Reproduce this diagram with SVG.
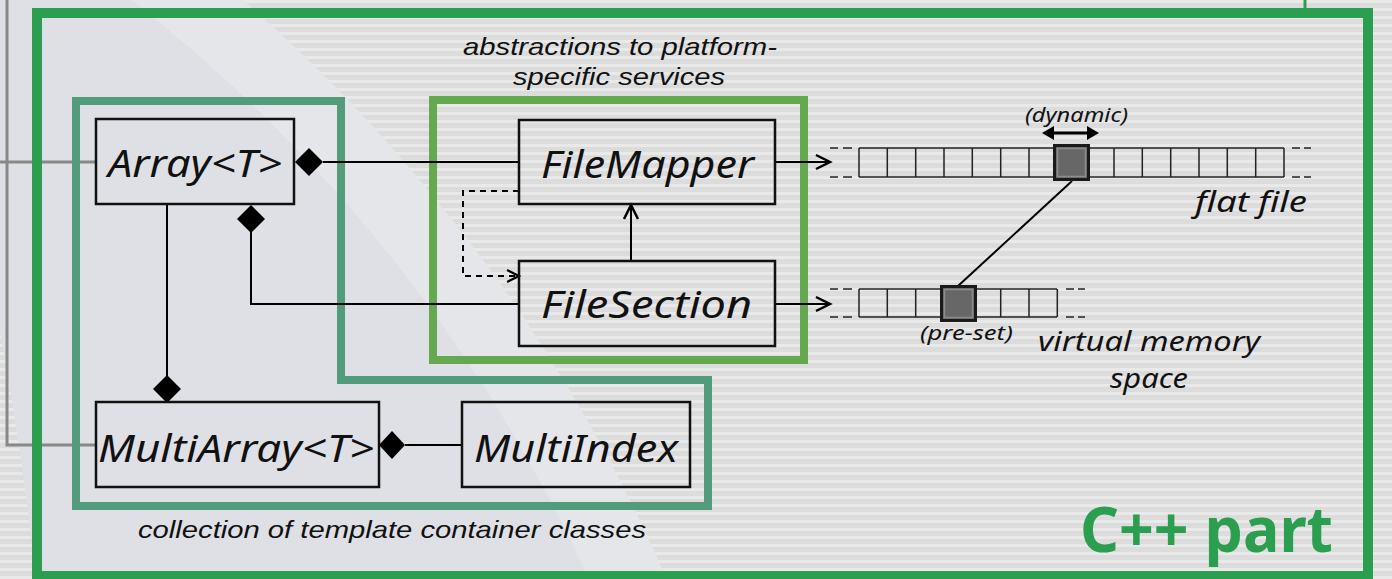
<svg xmlns="http://www.w3.org/2000/svg" xmlns:xlink="http://www.w3.org/1999/xlink" width="1392" height="579" viewBox="0 0 1392 579">
  <defs>
    <pattern id="stripes" width="8" height="8" patternUnits="userSpaceOnUse">
      <rect width="8" height="8" fill="#dcdcdc"/>
      <rect width="8" height="3" fill="#e9e9e9"/>
    </pattern>
    <path id="diamond" d="M-14,0 L0,-14 L14,0 L0,14 Z" fill="#000"/>
    <path id="open-head" d="M-14,-7 L0,0 L-14,7" fill="none" stroke="#000" stroke-width="2.5"/>
    <path id="solid-head" d="M-12,-7 L0,0 L-12,7 Z" fill="#000"/>
    <style>
      .box { fill: none; stroke: #111; stroke-width: 2.5; }
      .cls { font-family: "Noto Sans", "DejaVu Sans", sans-serif; font-style: italic; font-size: 39px; fill: #111; }
      .note { font-family: "Liberation Sans", Arial, sans-serif; font-style: italic; font-size: 24px; fill: #111; }
      .mem { font-family: "Noto Sans", "DejaVu Sans", sans-serif; font-style: italic; fill: #111; }
      .wire { fill: none; stroke: #000; stroke-width: 2; }
      .cell { fill: none; stroke: #222; stroke-width: 1.5; }
      .hot { fill: #676767; stroke: #1a1a1a; stroke-width: 3; }
      .hot-in { fill: none; stroke: #8c8c8c; stroke-width: 1.5; }
    </style>
  </defs>

  <!-- backdrop: striped field with a soft swoosh on the left -->
  <rect width="1392" height="579" fill="url(#stripes)"/>
  <circle cx="-821" cy="1223" r="1621" fill="#e5e6ea"/>
  <circle cx="-821" cy="1223" r="1550" fill="#dfe0e5"/>
  <path d="M0,330 Q22,450 36,579 L0,579 Z" fill="url(#stripes)"/>

  <!-- links coming in from outside the C++ part -->
  <g id="external-links" fill="none" stroke="#888" stroke-width="3">
    <polyline points="7,0 7,445 96,445"/>
    <line x1="0" y1="162" x2="96" y2="162"/>
    <line x1="1305" y1="0" x2="1305" y2="12" stroke="#2c9e50"/>
  </g>

  <!-- frames -->
  <g id="cpp-part">
    <rect x="37" y="13" width="1331" height="563" fill="none" stroke="#2b9e50" stroke-width="10"/>
    <text x="1080" y="552" font-family="Noto Sans, DejaVu Sans, sans-serif" font-weight="700" font-size="62" fill="#2c9e50" textLength="253" lengthAdjust="spacingAndGlyphs">C++ part</text>
  </g>
  <g id="container-classes">
    <polygon points="76,101 341,101 341,380 708,380 708,506 76,506" fill="none" stroke="#529b7d" stroke-width="8"/>
    <text class="note" x="138" y="538" font-size="25" textLength="508" lengthAdjust="spacingAndGlyphs">collection of template container classes</text>
  </g>
  <g id="platform-services">
    <rect x="433" y="100" width="371" height="260" fill="none" stroke="#64a94f" stroke-width="8"/>
    <text class="note" x="463" y="55" textLength="314" lengthAdjust="spacingAndGlyphs">abstractions to platform-</text>
    <text class="note" x="513" y="85" textLength="212" lengthAdjust="spacingAndGlyphs">specific services</text>
  </g>

  <!-- connectors -->
  <g id="connectors">
    <line class="wire" x1="323" y1="162" x2="519" y2="162"/>
    <use xlink:href="#diamond" transform="translate(309,162)"/>

    <polyline class="wire" points="251,232 251,304 519,304"/>
    <use xlink:href="#diamond" transform="translate(251,219)"/>

    <line class="wire" x1="167" y1="204" x2="167" y2="376"/>
    <use xlink:href="#diamond" transform="translate(167,389)"/>

    <line class="wire" x1="405" y1="445" x2="462" y2="445"/>
    <use xlink:href="#diamond" transform="translate(392,445) scale(0.93,1)"/>

    <polyline class="wire" points="519,191 463,191 463,276 517,276" stroke-dasharray="6,5" stroke-width="2.5"/>
    <use xlink:href="#open-head" transform="translate(519,276) scale(0.85)"/>

    <line class="wire" x1="631" y1="261" x2="631" y2="206"/>
    <use xlink:href="#open-head" transform="translate(631,205) rotate(-90)"/>

    <line class="wire" x1="775" y1="162" x2="829" y2="162"/>
    <use xlink:href="#open-head" transform="translate(830,162)"/>
    <line class="wire" x1="775" y1="304" x2="829" y2="304"/>
    <use xlink:href="#open-head" transform="translate(830,304)"/>

    <line class="wire" x1="1072" y1="181" x2="958" y2="286"/>
  </g>

  <!-- class nodes -->
  <g id="array">
    <rect class="box" x="96" y="119" width="198" height="85"/>
    <text class="cls" x="108" y="177" textLength="174" lengthAdjust="spacingAndGlyphs">Array&lt;T&gt;</text>
  </g>
  <g id="filemapper">
    <rect class="box" x="519" y="120" width="256" height="84"/>
    <text class="cls" x="541" y="178" textLength="213" lengthAdjust="spacingAndGlyphs">FileMapper</text>
  </g>
  <g id="filesection">
    <rect class="box" x="519" y="261" width="256" height="85"/>
    <text class="cls" x="541" y="318" textLength="211" lengthAdjust="spacingAndGlyphs">FileSection</text>
  </g>
  <g id="multiarray">
    <rect class="box" x="96" y="402" width="283" height="85"/>
    <text class="cls" x="98" y="462" textLength="276" lengthAdjust="spacingAndGlyphs">MultiArray&lt;T&gt;</text>
  </g>
  <g id="multiindex">
    <rect class="box" x="462" y="402" width="228" height="85"/>
    <text class="cls" x="474" y="462" textLength="204" lengthAdjust="spacingAndGlyphs">MultiIndex</text>
  </g>

  <!-- flat file: row of 15 cells, one marked -->
  <g id="flat-file">
    <line class="cell" x1="859" y1="148" x2="1284" y2="148"/>
    <line class="cell" x1="859" y1="177" x2="1284" y2="177"/>
    <path class="cell" d="M830,148 h8 M843,148 h9 M830,177 h8 M843,177 h9 M1292,148 h8 M1304,148 h7 M1292,177 h8 M1304,177 h7"/>
    <path class="cell" d="M859,148 v29 M887.3,148 v29 M915.7,148 v29 M944,148 v29 M972.3,148 v29 M1000.7,148 v29 M1029,148 v29 M1057.3,148 v29 M1085.7,148 v29 M1114,148 v29 M1142.3,148 v29 M1170.7,148 v29 M1199,148 v29 M1227.3,148 v29 M1255.7,148 v29 M1284,148 v29"/>
    <rect class="hot" x="1054.5" y="145.5" width="34" height="34"/>
    <rect class="hot-in" x="1057.5" y="148.5" width="28" height="28"/>
    <line x1="1053" y1="133" x2="1088" y2="133" stroke="#000" stroke-width="3"/>
    <use xlink:href="#solid-head" transform="translate(1099,133)"/>
    <use xlink:href="#solid-head" transform="translate(1042,133) rotate(180)"/>
    <text class="mem" x="1025" y="122" font-size="20" textLength="103" lengthAdjust="spacingAndGlyphs">(dynamic)</text>
    <text class="mem" x="1195" y="212" font-size="29" textLength="112" lengthAdjust="spacingAndGlyphs">flat file</text>
  </g>

  <!-- virtual memory space: row of 7 cells, one marked -->
  <g id="virtual-memory">
    <line class="cell" x1="859" y1="289" x2="1057" y2="289"/>
    <line class="cell" x1="859" y1="317" x2="1057" y2="317"/>
    <path class="cell" d="M830,289 h8 M843,289 h9 M830,317 h8 M843,317 h9 M1066,289 h8 M1078,289 h7 M1066,317 h8 M1078,317 h7"/>
    <path class="cell" d="M859,289 v28 M887.3,289 v28 M915.7,289 v28 M944,289 v28 M972.3,289 v28 M1000.7,289 v28 M1029,289 v28 M1057.3,289 v28"/>
    <rect class="hot" x="941.5" y="286.5" width="34" height="34"/>
    <rect class="hot-in" x="944.5" y="289.5" width="28" height="28"/>
    <text class="mem" x="920" y="340" font-size="20" textLength="93" lengthAdjust="spacingAndGlyphs">(pre-set)</text>
    <text class="mem" x="1038" y="351" font-size="26.5" textLength="222" lengthAdjust="spacingAndGlyphs">virtual memory</text>
    <text class="mem" x="1110" y="388" font-size="26.5" textLength="78" lengthAdjust="spacingAndGlyphs">space</text>
  </g>
</svg>
